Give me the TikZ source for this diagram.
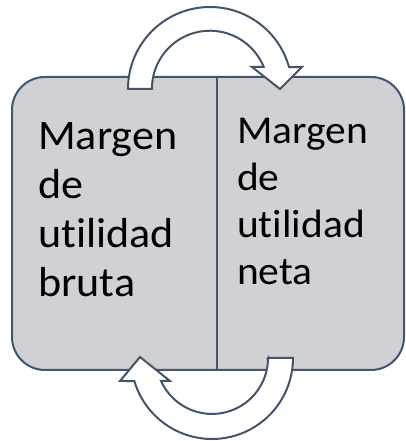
\documentclass[tikz,border=0pt]{standalone}
\usepackage{fontspec}
\setmainfont{Carlito}[FakeStretch=1.05,Ligatures=NoCommon]
\definecolor{panelgray}{RGB}{208,209,213}
\definecolor{slate}{RGB}{68,84,106}
\tikzset{
  panel/.style={draw=slate,fill=panelgray,line width=2pt,rounded corners=33pt},
  cyclearrow/.style={draw=slate,fill=white,line width=2pt,line join=miter},
  label/.style={anchor=north west,inner sep=0pt,align=left,text=black}
}
\begin{document}
\begin{tikzpicture}[x=1pt,y=1pt]
  \useasboundingbox (0,0) rectangle (406,441);
  % box with two halves
  \draw[panel] (12,71) rectangle (404,364);
  \draw[draw=slate,line width=2pt] (217,71) -- (217,364);

  % texts
  \node[label,font=\fontsize{42}{49}\selectfont] (bruta) at (38,319) {Margen\\de\\utilidad\\bruta};
  \node[label,font=\fontsize{39.5}{47}\selectfont] (neta) at (237,323) {Margen\\de\\utilidad\\neta};

  % arrow on top
  \draw[cyclearrow] (152,352) -- (128,352) arc[start angle=180,end angle=15.5,radius=82]
    -- (302,374) -- (280,352) -- (252,374) -- (263.7,374)
    arc[start angle=22,end angle=180,radius=58] -- cycle;
  % arrow at bottom
  \draw[cyclearrow] (268,83) -- (293,83) arc[start angle=0,end angle=-163.5,radius=81]
    -- (120,60) -- (140,84) -- (170,60) -- (161,60)
    arc[start angle=-155.7,end angle=0,radius=56] -- cycle;
\end{tikzpicture}
\end{document}
